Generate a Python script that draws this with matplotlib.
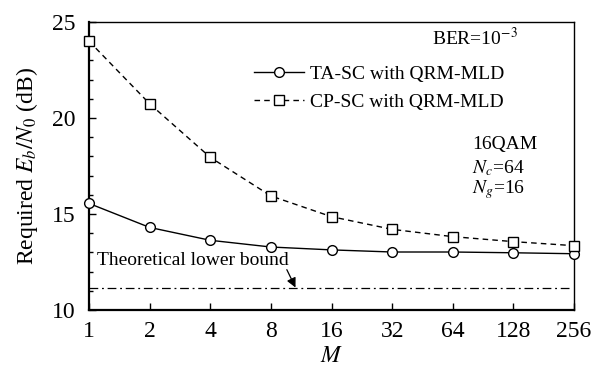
import matplotlib

matplotlib.use("Agg")

import matplotlib.pyplot as plt  # noqa: E402
from matplotlib.ticker import FixedLocator, MultipleLocator  # noqa: E402

plt.rcParams.update(
    {
        "font.family": "Liberation Serif",
        "mathtext.fontset": "stix",
        "font.size": 14,
    }
)

# values
M_VALUES = [1, 2, 4, 8, 16, 32, 64, 128, 256]
TA_SC = [15.55, 14.3, 13.63, 13.28, 13.13, 13.02, 13.02, 12.98, 12.93]
CP_SC = [24.0, 20.74, 17.95, 15.94, 14.86, 14.2, 13.82, 13.56, 13.35]
LOWER_BOUND = 11.15
TICK_LABELS = ["1", "2", "4", "8", "16", "32", "64", "128", "256"]

fig = plt.figure(figsize=(5.95, 3.72), dpi=100)
ax = fig.add_axes([0.1496, 0.1667, 0.8151, 0.7742])

ax.plot(
    M_VALUES, TA_SC, color="black", linewidth=1.0, marker="o", markersize=7,
    markerfacecolor="white", markeredgewidth=1.0, label="TA-SC with QRM-MLD",
    clip_on=False, zorder=3,
)
ax.plot(
    M_VALUES, CP_SC, color="black", linewidth=1.0, linestyle=(0, (4, 3)),
    marker="s", markersize=7, markerfacecolor="white", markeredgewidth=1.0,
    label="CP-SC with QRM-MLD", clip_on=False, zorder=3,
)
ax.axhline(LOWER_BOUND, xmin=0.0, xmax=0.99, color="black", linewidth=0.9,
           linestyle=(0, (7, 3, 1.5, 3)))

ax.text(0.0165, 0.172, "Theoretical lower bound", transform=ax.transAxes,
        ha="left", va="center", fontsize=14)
ax.annotate("", xy=(10.6, LOWER_BOUND + 0.02), xytext=(9.6, 12.1),
            arrowprops=dict(arrowstyle="-|>", color="black", lw=0.9,
                            mutation_scale=14, shrinkA=0, shrinkB=0))

ax.text(0.707, 0.944, r"BER=10$^{-3}$", transform=ax.transAxes,
        ha="left", va="center", fontsize=14)
ax.text(0.79, 0.573, "16QAM", transform=ax.transAxes, ha="left", va="center", fontsize=14)
ax.text(0.79, 0.493, r"$N_c$=64", transform=ax.transAxes, ha="left", va="center", fontsize=14)
ax.text(0.79, 0.417, r"$N_g$=16", transform=ax.transAxes, ha="left", va="center", fontsize=14)

ax.legend(loc="center left", bbox_to_anchor=(0.32, 0.77), frameon=False,
          handlelength=2.6, handletextpad=0.3, labelspacing=0.55, fontsize=14,
          borderpad=0.0)

ax.set_xscale("log", base=2)
ax.set_xlim(1, 256)
ax.set_ylim(10, 25)
ax.xaxis.set_major_locator(FixedLocator(M_VALUES))
ax.set_xticklabels(TICK_LABELS)
ax.xaxis.set_minor_locator(FixedLocator([]))
ax.yaxis.set_major_locator(MultipleLocator(5))
ax.yaxis.set_minor_locator(MultipleLocator(1))
ax.tick_params(which="both", direction="in", labelsize=17)
ax.tick_params(which="major", length=5, width=1.0)
ax.tick_params(axis="x", which="major", pad=8)
ax.tick_params(axis="y", which="major", pad=10)
ax.tick_params(which="minor", length=3, width=1.0)

for side in ("left", "bottom"):
    ax.spines[side].set_linewidth(1.6)
for side in ("top", "right"):
    ax.spines[side].set_linewidth(1.0)

ax.set_ylabel(r"Required $E_b/N_0$ (dB)", fontsize=17, labelpad=8)
ax.set_xlabel(r"$M$", fontsize=17, labelpad=3)

fig.savefig("out.png", dpi=100)
